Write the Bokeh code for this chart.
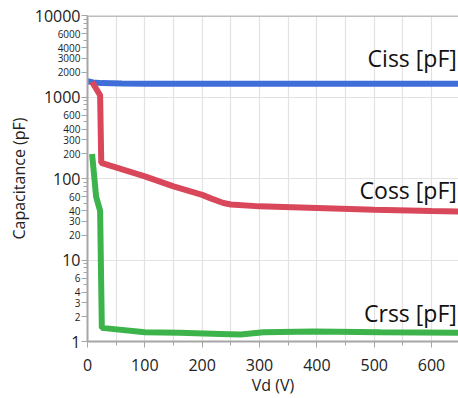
from bokeh.plotting import figure
from bokeh.models import Range1d, FixedTicker, Label, Span, LogAxis
from bokeh.embed import file_html
from bokeh.resources import INLINE

# Drain voltage (V) and capacitance (pF) for each curve
vd_ciss = [0, 10, 25, 60, 100, 200, 300, 400, 500, 600, 650]
ciss = [1560, 1510, 1480, 1460, 1450, 1450, 1450, 1450, 1450, 1450, 1450]

vd_coss = [8, 22, 24, 100, 150, 200, 215, 237, 250, 300, 400, 500, 600, 650]
coss = [1530, 1050, 155, 106, 80, 63, 57, 50, 48, 45.5, 43.5, 41.5, 40, 39.3]

vd_crss = [8, 15, 22, 25, 100, 160, 232, 267, 307, 395, 511, 650]
crss = [200, 60, 40, 1.47, 1.30, 1.28, 1.24, 1.22, 1.30, 1.33, 1.30, 1.28]

x_major = [0, 100, 200, 300, 400, 500, 600]
x_minor = [50, 150, 250, 350, 450, 550, 650]
y_major = [1, 10, 100, 1000, 10000]
y_minor = [k * 10 ** d for d in range(4) for k in range(2, 10)]
y_minor_labelled = [k * 10 ** d for d in range(4) for k in (2, 3, 4, 6)]

FONT = "Open Sans"
AXIS_GREY = "#a6a6a6"
GRID_GREY = "#e2e2e2"
TEXT = "#222222"

p = figure(width=458, height=398, x_range=Range1d(0, 647), y_range=Range1d(1, 10000),
           y_axis_type="log", output_backend="svg", toolbar_location=None,
           min_border_left=87, min_border_right=0, min_border_top=15, min_border_bottom=56,
           background_fill_color="white", border_fill_color="white")
p.outline_line_color = None

# grids
p.xgrid.ticker = FixedTicker(ticks=list(range(50, 700, 50)))
p.ygrid.ticker = FixedTicker(ticks=[10, 100, 1000])
p.xgrid.grid_line_color = GRID_GREY
p.ygrid.grid_line_color = GRID_GREY
p.xgrid.grid_line_width = 1.2
p.ygrid.grid_line_width = 1.2

# x axis
xa = p.xaxis[0]
xa.ticker = FixedTicker(ticks=x_major, minor_ticks=x_minor)
xa.axis_label = "Vd (V)"
xa.axis_line_color = AXIS_GREY
xa.axis_line_width = 2
xa.major_tick_line_color = AXIS_GREY
xa.minor_tick_line_color = AXIS_GREY
xa.major_tick_in = 0
xa.major_tick_out = 6
xa.minor_tick_in = 0
xa.minor_tick_out = 4
xa.major_label_standoff = 11
xa.major_label_text_font = FONT
xa.major_label_text_font_size = "16px"
xa.major_label_text_color = TEXT
xa.axis_label_text_font = FONT
xa.axis_label_text_font_size = "16px"
xa.axis_label_text_font_style = "normal"
xa.axis_label_text_color = TEXT
xa.axis_label_standoff = 0

# inner y axis: line, all tick marks, small labels on 2/3/4/6 ticks
ya = p.yaxis[0]
ya.ticker = FixedTicker(ticks=sorted(y_major + y_minor_labelled),
                        minor_ticks=[v for v in y_minor if v not in y_minor_labelled])
ya.major_label_overrides = {v: "" for v in y_major}
ya.axis_line_color = AXIS_GREY
ya.axis_line_width = 2
ya.major_tick_line_color = AXIS_GREY
ya.minor_tick_line_color = AXIS_GREY
ya.major_tick_in = 0
ya.major_tick_out = 6
ya.minor_tick_in = 0
ya.minor_tick_out = 4
ya.major_label_standoff = 1
ya.major_label_text_font = FONT
ya.major_label_text_font_size = "10px"
ya.major_label_text_color = TEXT

# outer y axis: decade labels (larger) pulled in to the tick column, plus the title
ya2 = LogAxis(ticker=FixedTicker(ticks=y_major, minor_ticks=[]))
ya2.axis_line_color = None
ya2.major_tick_line_color = None
ya2.minor_tick_line_color = None
ya2.major_tick_in = 0
ya2.major_tick_out = 0
ya2.minor_tick_in = 0
ya2.minor_tick_out = 0
ya2.major_label_overrides = {v: str(v) for v in y_major}
ya2.major_label_standoff = -26
ya2.major_label_text_font = FONT
ya2.major_label_text_font_size = "16px"
ya2.major_label_text_color = TEXT
ya2.axis_label = "Capacitance (pF)"
ya2.axis_label_text_font = FONT
ya2.axis_label_text_font_size = "16px"
ya2.axis_label_text_font_style = "normal"
ya2.axis_label_text_color = TEXT
ya2.axis_label_standoff = 2
p.add_layout(ya2, "left")

# top frame line
p.add_layout(Span(location=10000, dimension="width", line_color="#bdbdbd", line_width=3))

# curves
p.line(vd_ciss, ciss, line_color="#3f6ed8", line_width=6)
p.line(vd_coss, coss, line_color="#d9475a", line_width=6)
p.line(vd_crss, crss, line_color="#3cb44b", line_width=6)

# curve names
for name, yv in (("Ciss [pF]", 2980), ("Coss [pF]", 72), ("Crss [pF]", 2.26)):
    p.add_layout(Label(x=644, y=yv, text=name, text_align="right", text_baseline="middle",
                       text_font=FONT, text_font_size="23px", text_color="#111111"))

open("out.html", "w").write(file_html(p, INLINE))
